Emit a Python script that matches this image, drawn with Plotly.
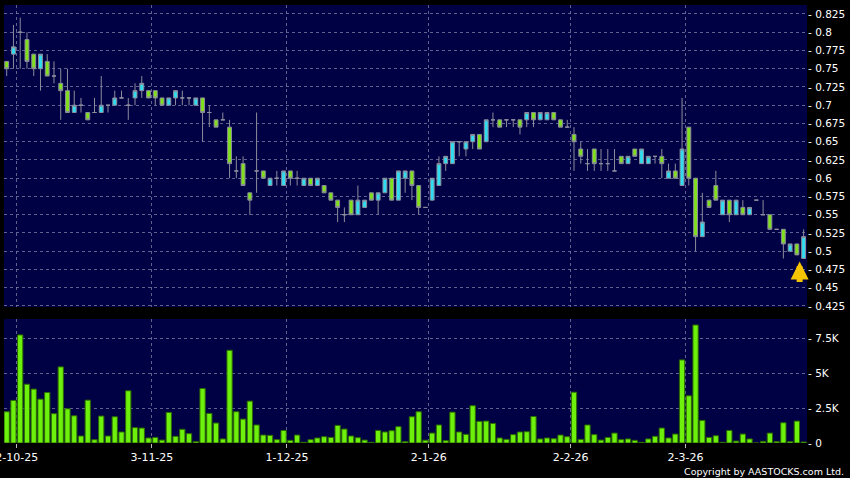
import plotly.graph_objects as go

# ---- data ----
opens = [0.76, 0.77, 0.80, 0.79, 0.77, 0.75, 0.76, 0.74, 0.73, 0.72,
         0.69, 0.70, 0.69, 0.69, 0.69, 0.70, 0.70, 0.71, 0.70, 0.71,
         0.72, 0.72, 0.72, 0.71, 0.70, 0.71, 0.71, 0.71, 0.70, 0.71,
         0.69, 0.68, 0.68, 0.67, 0.61, 0.62, 0.58, 0.61, 0.61, 0.59,
         0.60, 0.59, 0.61, 0.60, 0.59, 0.60, 0.59, 0.59, 0.58, 0.57,
         0.55, 0.57, 0.55, 0.56, 0.58, 0.57, 0.58, 0.60, 0.57, 0.60,
         0.61, 0.59, 0.56, 0.57, 0.59, 0.62, 0.62, 0.65, 0.64, 0.65,
         0.66, 0.65, 0.68, 0.68, 0.68, 0.68, 0.68, 0.68, 0.69, 0.68,
         0.68, 0.69, 0.68, 0.67, 0.66, 0.64, 0.62, 0.64, 0.62, 0.62,
         0.61, 0.63, 0.62, 0.64, 0.62, 0.62, 0.63, 0.63, 0.60, 0.61,
         0.59, 0.67, 0.60, 0.52, 0.57, 0.59, 0.55, 0.57, 0.55, 0.56,
         0.55, 0.57, 0.55, 0.55, 0.53, 0.53, 0.50, 0.51, 0.49]
highs = [0.76, 0.81, 0.82, 0.80, 0.77, 0.77, 0.77, 0.76, 0.75, 0.75,
         0.72, 0.71, 0.69, 0.71, 0.74, 0.70, 0.72, 0.72, 0.71, 0.73,
         0.74, 0.72, 0.72, 0.71, 0.71, 0.72, 0.72, 0.71, 0.71, 0.71,
         0.70, 0.68, 0.69, 0.68, 0.63, 0.63, 0.58, 0.69, 0.61, 0.60,
         0.61, 0.61, 0.61, 0.61, 0.60, 0.60, 0.60, 0.59, 0.58, 0.57,
         0.56, 0.57, 0.59, 0.57, 0.58, 0.58, 0.60, 0.60, 0.61, 0.61,
         0.61, 0.59, 0.56, 0.60, 0.63, 0.63, 0.65, 0.65, 0.65, 0.66,
         0.66, 0.68, 0.69, 0.68, 0.68, 0.68, 0.68, 0.69, 0.69, 0.69,
         0.69, 0.69, 0.68, 0.68, 0.67, 0.65, 0.64, 0.64, 0.64, 0.64,
         0.64, 0.63, 0.63, 0.64, 0.64, 0.63, 0.63, 0.64, 0.62, 0.62,
         0.71, 0.67, 0.60, 0.58, 0.57, 0.61, 0.57, 0.57, 0.57, 0.57,
         0.56, 0.57, 0.57, 0.55, 0.53, 0.53, 0.51, 0.51, 0.53]
lows = [0.74, 0.75, 0.75, 0.75, 0.74, 0.72, 0.74, 0.73, 0.68, 0.69,
        0.69, 0.69, 0.68, 0.69, 0.69, 0.69, 0.70, 0.71, 0.68, 0.70,
        0.71, 0.71, 0.70, 0.70, 0.70, 0.70, 0.70, 0.70, 0.70, 0.65,
        0.67, 0.67, 0.68, 0.60, 0.60, 0.59, 0.55, 0.58, 0.60, 0.59,
        0.59, 0.59, 0.59, 0.59, 0.59, 0.59, 0.59, 0.58, 0.57, 0.54,
        0.54, 0.55, 0.55, 0.56, 0.57, 0.55, 0.58, 0.57, 0.57, 0.58,
        0.57, 0.55, 0.56, 0.57, 0.59, 0.61, 0.62, 0.63, 0.63, 0.64,
        0.64, 0.65, 0.67, 0.67, 0.67, 0.67, 0.66, 0.67, 0.67, 0.68,
        0.68, 0.68, 0.67, 0.67, 0.61, 0.62, 0.61, 0.61, 0.61, 0.61,
        0.61, 0.62, 0.62, 0.63, 0.62, 0.62, 0.62, 0.60, 0.60, 0.60,
        0.59, 0.59, 0.50, 0.52, 0.56, 0.57, 0.55, 0.54, 0.55, 0.55,
        0.55, 0.57, 0.55, 0.53, 0.53, 0.49, 0.50, 0.495, 0.49]
closes = [0.75, 0.78, 0.80, 0.76, 0.75, 0.77, 0.74, 0.74, 0.72, 0.69,
          0.70, 0.70, 0.68, 0.69, 0.70, 0.70, 0.71, 0.71, 0.70, 0.72,
          0.73, 0.71, 0.71, 0.70, 0.71, 0.72, 0.71, 0.71, 0.71, 0.69,
          0.69, 0.67, 0.68, 0.62, 0.61, 0.59, 0.57, 0.61, 0.60, 0.60,
          0.60, 0.61, 0.60, 0.60, 0.60, 0.59, 0.60, 0.58, 0.57, 0.56,
          0.55, 0.55, 0.57, 0.57, 0.57, 0.58, 0.60, 0.57, 0.61, 0.61,
          0.59, 0.56, 0.56, 0.60, 0.62, 0.63, 0.65, 0.65, 0.65, 0.66,
          0.64, 0.68, 0.68, 0.67, 0.68, 0.68, 0.67, 0.69, 0.68, 0.69,
          0.69, 0.68, 0.67, 0.67, 0.65, 0.63, 0.62, 0.62, 0.62, 0.62,
          0.61, 0.62, 0.63, 0.63, 0.64, 0.63, 0.63, 0.62, 0.61, 0.60,
          0.64, 0.60, 0.52, 0.54, 0.56, 0.57, 0.57, 0.55, 0.57, 0.55,
          0.56, 0.57, 0.55, 0.53, 0.53, 0.51, 0.51, 0.495, 0.52]
volumes = [2240, 3050, 7740, 4210, 3860, 3140, 3620, 2100, 5450, 2450,
           1950, 500, 3070, 240, 1930, 500, 1880, 790, 3740, 1100,
           1070, 360, 400, 210, 2190, 480, 980, 670, 100, 3900,
           2120, 1430, 290, 6640, 2240, 1710, 3000, 1290, 570, 550,
           240, 900, 190, 570, 50, 240, 360, 450, 400, 1260,
           1000, 500, 380, 210, 50, 900, 790, 880, 1170, 100,
           1880, 2240, 200, 710, 1290, 170, 2210, 790, 620, 2670,
           1550, 1570, 1400, 360, 260, 600, 790, 810, 1900, 290,
           360, 310, 570, 450, 3640, 260, 1290, 600, 210, 400,
           710, 240, 290, 190, 50, 290, 480, 1070, 360, 640,
           5950, 3380, 8450, 1620, 400, 520, 50, 900, 140, 640,
           290, 0, 120, 710, 100, 1450, 100, 1570, 70]

month_labels = ["2-10-25", "3-11-25", "1-12-25", "2-1-26", "2-2-26", "2-3-26"]
month_first_bar = [2, 22, 42, 63, 84, 101]
price_ticks = [0.425, 0.45, 0.475, 0.5, 0.525, 0.55, 0.575, 0.6, 0.625,
               0.65, 0.675, 0.7, 0.725, 0.75, 0.775, 0.8, 0.825]
vol_ticks = [0, 2500, 5000, 7500]
vol_tick_labels = ["0", "2.5K", "5K", "7.5K"]

# ---- styles ----
BG = "#000000"
PLOT_BG = "#000044"
GRID = "rgba(130,130,170,0.75)"
CYAN = "#2fdcf0"
GREEN = "#80e01c"
WICK = "#8c8c9c"
VOL = "#6cf00c"
VOL_EDGE = "#2c6a00"
FONT = "DejaVu Sans"

x = list(range(len(opens)))
xgrid = [b - 0.5 for b in month_first_bar]

fig = go.Figure()
fig.add_trace(go.Candlestick(
    x=x, open=opens, high=highs, low=lows, close=closes,
    increasing=dict(fillcolor=CYAN, line=dict(color=WICK, width=1)),
    decreasing=dict(fillcolor=GREEN, line=dict(color=WICK, width=1)),
    whiskerwidth=0, showlegend=False, hoverinfo="skip",
    xaxis="x", yaxis="y"))
fig.add_trace(go.Bar(
    x=x, y=volumes, width=0.78,
    marker=dict(color=VOL, line=dict(color=VOL_EDGE, width=1)),
    showlegend=False, hoverinfo="skip", xaxis="x2", yaxis="y2"))

xr = [-0.4, len(opens) - 0.5]
common_x = dict(range=xr, showgrid=True, gridcolor=GRID, griddash="3px,3px",
                gridwidth=1, tickvals=xgrid, zeroline=False, showline=False,
                automargin=False)

fig.update_layout(
    width=850, height=478,
    paper_bgcolor=BG, plot_bgcolor=PLOT_BG,
    margin=dict(l=4, r=43, t=5, b=35),
    font=dict(family=FONT, size=10, color="white"),
    boxgap=0.18,
    xaxis=dict(common_x, domain=[0, 1], anchor="y", showticklabels=False,
               ticks="", rangeslider=dict(visible=False)),
    xaxis2=dict(common_x, domain=[0, 1], anchor="y2", matches="x",
                ticktext=month_labels, ticks="outside", ticklen=4,
                tickcolor="#bbbbbb", ticklabeloverflow="allow",
                tickfont=dict(family=FONT, size=11, color="white")),
    yaxis=dict(domain=[0.3105, 1], range=[0.4236, 0.8373], side="right",
               tickvals=price_ticks, automargin=False,
               ticktext=["- " + f"{v:g}" for v in price_ticks],
               ticks="", showgrid=True, gridcolor=GRID, griddash="3px,3px",
               zeroline=False, showline=False,
               tickfont=dict(family=FONT, size=10.5, color="white")),
    yaxis2=dict(domain=[0, 0.2831], range=[0, 8880], side="right",
                tickvals=vol_ticks, automargin=False,
                ticktext=["- " + t for t in vol_tick_labels],
                ticks="", showgrid=True, gridcolor=GRID, griddash="3px,3px",
                zeroline=False, showline=False,
                tickfont=dict(family=FONT, size=10.5, color="white")),
)

fig.add_annotation(
    x=x[-1], y=lows[-1], xref="x", yref="y", text="",
    showarrow=True, ax=0, ay=25, arrowhead=2, arrowsize=0.6,
    arrowwidth=6, arrowcolor="#f5c400", standoff=3, xshift=-4)

fig.add_annotation(
    x=1.0486, y=-0.0655, xref="paper", yref="paper",
    text="Copyright by AASTOCKS.com Ltd.", showarrow=False,
    xanchor="right", yanchor="middle",
    font=dict(family=FONT, size=9.5, color="white"))

fig.write_html("out.html",
               config={"displayModeBar": False},
               post_script="document.body.style.margin='0px';"
                           "document.body.style.overflow='hidden';")
